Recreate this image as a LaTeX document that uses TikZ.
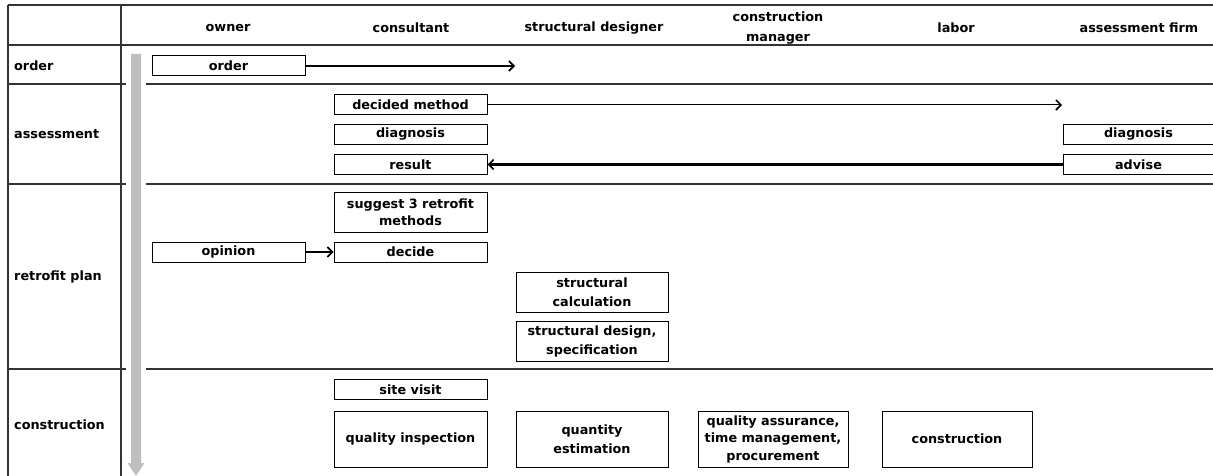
\documentclass[tikz,border=0pt]{standalone}
\usepackage{fontspec}
\setmainfont{DejaVu Sans}
\usetikzlibrary{arrows.meta}
\begin{document}
\begin{tikzpicture}[x=1pt,y=-1pt,
  font=\fontsize{12.8}{18}\selectfont\bfseries,
  frame/.style={draw=black!80,line width=1.2pt},
  box/.style={draw,line width=1pt,inner sep=0pt,minimum width=153pt,minimum height=20pt,align=center},
  tallbox/.style={box,minimum height=40pt},
  bigbox/.style={box,minimum height=56pt},
  flow/.style={line width=2.2pt,-{Straight Barb[length=5pt,width=10pt,line width=1.6pt]}},
  thinflow/.style={line width=1pt,-{Straight Barb[length=5pt,width=10pt,line width=1.6pt]}},
  head/.style={align=center},
  rowlabel/.style={anchor=west,inner sep=0pt}]
\useasboundingbox (0,0) rectangle (1213,476);

% table frame
\draw[frame] (8,5) -- (1213,5);
\draw[frame] (8,45) -- (1213,45);
\draw[frame] (8,5) -- (8,476);
\draw[frame] (121,5) -- (121,476);
\foreach \yy in {84,184,369}{
  \draw[frame] (8,\yy) -- (126,\yy);
  \draw[frame] (146,\yy) -- (1213,\yy);
}

% time axis
\fill[black!25] (131,54) -- (141,54) -- (141,463) -- (144.5,463) -- (136,476) -- (127.5,463) -- (131,463) -- cycle;

% column headings
\node[head] (hOwner) at (228,28) {owner};
\node[head] (hCons) at (411,28) {consultant};
\node[head] (hStruct) at (594,28) {structural designer};
\node[head,font=\fontsize{12.8}{20}\selectfont\bfseries] (hManager) at (778,28) {construction\\manager};
\node[head] (hLabor) at (956,28) {labor};
\node[head] (hFirm) at (1139,28) {assessment firm};

% row headings
\node[rowlabel] (rOrder) at (14,66) {order};
\node[rowlabel] (rAssess) at (14,134) {assessment};
\node[rowlabel] (rPlan) at (14,277) {retrofit plan};
\node[rowlabel] (rBuild) at (14,425) {construction};

% order
\node[box] (order) at (228.5,66) {order};
\coordinate (orderEnd) at (515,66);
\draw[flow] (order.east) -- (orderEnd);

% assessment
\node[box] (method) at (410.5,105) {decided method};
\node[box] (diagC) at (410.5,134.5) {diagnosis};
\node[box] (result) at (410.5,164.5) {result};
\node[box,minimum width=150pt] (diagF) at (1138.5,134.5) {diagnosis};
\node[box,minimum width=150pt] (advise) at (1138.5,164.5) {advise};
\coordinate (methodEnd) at (1062,105);
\draw[thinflow] (method.east) -- (methodEnd);
\draw[flow] (advise.west) -- (result.east);

% retrofit plan
\node[tallbox,font=\fontsize{12.8}{17}\selectfont\bfseries] (suggest) at (410.5,212.5) {suggest 3 retrofit\\methods};
\node[box] (opinion) at (228.5,252) {opinion};
\node[box] (decide) at (410.5,252) {decide};
\draw[flow] (opinion.east) -- (decide.west);
\node[tallbox,minimum width=152pt,font=\fontsize{12.8}{19}\selectfont\bfseries] (calc) at (592,292) {structural\\calculation};
\node[tallbox,minimum width=152pt,font=\fontsize{12.8}{19}\selectfont\bfseries] (design) at (592,341.5) {structural design,\\specification};

% construction
\node[box] (visit) at (410.5,389.5) {site visit};
\node[bigbox] (inspect) at (410.5,439) {quality inspection};
\node[bigbox,minimum width=152pt,font=\fontsize{12.8}{19}\selectfont\bfseries] (quantity) at (592,439) {quantity\\estimation};
\node[bigbox,minimum width=150pt,font=\fontsize{12.8}{17.5}\selectfont\bfseries] (assure) at (773,439) {quality assurance,\\time management,\\procurement};
\node[bigbox,minimum width=150pt] (build) at (957,439) {construction};
\end{tikzpicture}
\end{document}
